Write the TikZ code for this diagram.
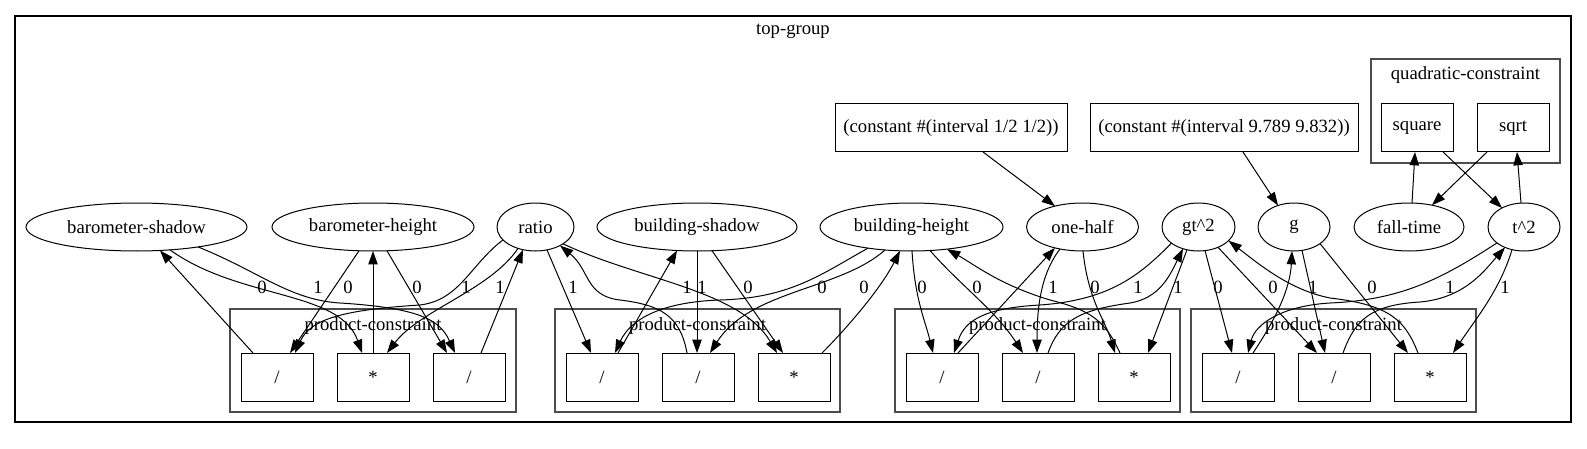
\documentclass[tikz,border=0pt]{standalone}
\usepackage{fontspec}
\setmainfont{Liberation Serif}
\usetikzlibrary{shapes.geometric,arrows.meta,calc}
\begin{document}
\begin{tikzpicture}[x=0.75pt,y=-0.75pt,
  every node/.style={font=\fontsize{14}{16}\selectfont},
  var/.style={ellipse,draw,line width=0.75pt,minimum height=36pt,inner sep=0pt},
  opbox/.style={rectangle,draw,line width=0.75pt,minimum width=54pt,minimum height=36pt,inner sep=0pt},
  cbox/.style={rectangle,draw,line width=0.75pt,minimum height=36pt,inner sep=0pt},
  grp/.style={draw=black!70,line width=1pt},
  lbl/.style={inner sep=0pt},
  edge/.style={line width=0.75pt,-{Triangle[length=10pt,width=7pt]}},
]
\useasboundingbox (0,0) rectangle (1587,449);
% outer frame
\draw[line width=0.8pt] (15,16) rectangle (1571,422);
\node[lbl] (title) at (793,31) {top-group};
% clusters
\draw[grp] (230,309) rectangle (516,412);
\draw[grp] (555,309) rectangle (840,412);
\draw[grp] (895,309) rectangle (1180,412);
\draw[grp] (1191,309) rectangle (1476,412);
\draw[grp] (1371,59) rectangle (1560,163);
\node[lbl] (pc1) at (373,326.5) {product-constraint};
\node[lbl] (pc2) at (697.5,326.5) {product-constraint};
\node[lbl] (pc3) at (1037.5,326.5) {product-constraint};
\node[lbl] (pc4) at (1333.5,326.5) {product-constraint};
\node[lbl] (qc) at (1465.5,75) {quadratic-constraint};
% variables
\node[var,minimum width=165.75pt] (bs) at (136.5,227) {barometer-shadow};
\node[var,minimum width=151.5pt] (bh) at (373,227) {barometer-height};
\node[var,minimum width=57.75pt] (ratio) at (535.5,227) {ratio};
\node[var,minimum width=150pt] (bsh) at (697,227) {building-shadow};
\node[var,minimum width=137.25pt] (bhe) at (911.5,227) {building-height};
\node[var,minimum width=84pt] (oh) at (1082.5,227) {one-half};
\node[var,minimum width=54.75pt] (gt) at (1198.5,227) {gt\textasciicircum 2};
\node[var,minimum width=54pt] (g) at (1294,227) {g};
\node[var,minimum width=82.5pt] (ft) at (1409,227) {fall-time};
\node[var,minimum width=54pt] (t2) at (1524,227) {t\textasciicircum 2};
% constants
\node[cbox,minimum width=174pt] (c1) at (951,128) {(constant \#(interval 1/2 1/2))};
\node[cbox,minimum width=201pt] (c2) at (1224,128) {(constant \#(interval 9.789 9.832))};
\node[opbox] (sq) at (1417,128) {square};
\node[opbox] (sqrt) at (1513,128) {sqrt};
% op boxes
\node[opbox] (A1) at (277,377) {/};
\node[opbox] (A2) at (373,377) {*};
\node[opbox] (A3) at (469,377) {/};
\node[opbox] (B1) at (602,377) {/};
\node[opbox] (B2) at (698,377) {/};
\node[opbox] (B3) at (794,377) {*};
\node[opbox] (C1) at (942,377) {/};
\node[opbox] (C2) at (1038,377) {/};
\node[opbox] (C3) at (1134,377) {*};
\node[opbox] (D1) at (1238,377) {/};
\node[opbox] (D2) at (1334,377) {/};
\node[opbox] (D3) at (1430,377) {*};
% edge labels
\foreach \x/\t [count=\i] in {262/0,318/1,348/0,417/0,466/1,500/1,
  573/1,687/1,702/1,748/0,822/0,864/0,
  922/0,977/0,1053/1,1095/0,1138/1,1178/1,
  1218/0,1273/0,1313/1,1372/0,1450/1,1505/1}
  \node[lbl] (el\i) at (\x,287) {\t};
% cluster 1
\draw[edge] ($(A1)+(-24,-24)$) -- ($(bs)+(23.5,23.5)$);
\draw[edge] ($(A2)+(0,-24)$) -- ($(bh)+(0,24)$);
\draw[edge] ($(A3)+(12,-24)$) -- ($(ratio)+(-12.5,22.7)$);
\draw[edge] ($(bs)+(33.5,22.9)$) .. controls (240,300) and (340,290) .. ($(A2)+(-11,-24)$);
\draw[edge] ($(bs)+(61.5,19.9)$) .. controls (260,272) and (290,300) .. (340,303) .. controls (420,308) and (440,320) .. ($(A3)+(-14,-24)$);
\draw[edge] ($(bh)+(-14,23.8)$) -- ($(A1)+(13,-24)$);
\draw[edge] ($(bh)+(14,23.8)$) -- ($(A3)+(-22,-24)$);
\draw[edge] ($(ratio)+(-32.5,12.9)$) .. controls (470,265) and (460,300) .. (420,305) .. controls (340,310) and (310,320) .. ($(A1)+(18,-24)$);
\draw[edge] ($(ratio)+(-17.5,21.4)$) .. controls (490,290) and (420,310) .. ($(A2)+(14,-24)$);
% cluster 2
\draw[edge] ($(B1)+(16,-24)$) -- ($(bsh)+(-20,23.5)$);
\draw[edge] ($(B2)+(-11,-24)$) .. controls (680,315) and (660,305) .. (620,300) .. controls (585,296) and (590,270) .. ($(ratio)+(24.5,18.5)$);
\draw[edge] ($(B3)+(28,-24)$) .. controls (845,330) and (880,290) .. ($(bhe)+(-11.5,23.8)$);
\draw[edge] ($(ratio)+(11.5,22.9)$) -- ($(B1)+(-11,-24)$);
\draw[edge] ($(ratio)+(27.5,16.8)$) .. controls (640,280) and (740,290) .. ($(B3)+(-17,-24)$);
\draw[edge] ($(bsh)+(0,24)$) -- ($(B2)+(-1,-24)$);
\draw[edge] ($(bsh)+(15,23.7)$) -- ($(B3)+(-11,-24)$);
\draw[edge] ($(bhe)+(-43.5,21.1)$) .. controls (820,275) and (790,298) .. (720,300) .. controls (660,302) and (630,320) .. ($(B1)+(13,-24)$);
\draw[edge] ($(bhe)+(-26.5,23)$) .. controls (840,290) and (750,290) .. ($(B2)+(12,-24)$);
% cluster 3
\draw[edge] ($(bhe)+(0.5,24)$) .. controls (915,300) and (925,320) .. ($(C1)+(-9,-24)$);
\draw[edge] ($(bhe)+(18.5,23.5)$) .. controls (960,285) and (995,310) .. ($(C2)+(-15,-24)$);
\draw[edge] ($(C3)+(-14,-24)$) .. controls (1105,320) and (1090,310) .. (1050,300) .. controls (1000,285) and (975,265) .. ($(bhe)+(35.5,22.1)$);
\draw[edge] ($(C1)+(16,-24)$) -- ($(oh)+(-27.5,20.9)$);
\draw[edge] ($(oh)+(-22.5,22)$) .. controls (1040,275) and (1037,310) .. ($(C2)+(-1,-24)$);
\draw[edge] ($(oh)+(0.5,24)$) .. controls (1088,300) and (1105,320) .. ($(C3)+(-19,-24)$);
\draw[edge] ($(gt)+(-27,16.1)$) .. controls (1140,275) and (1110,300) .. (1040,305) .. controls (985,308) and (965,320) .. ($(C1)+(12,-24)$);
\draw[edge] ($(C2)+(10,-24)$) .. controls (1060,320) and (1080,310) .. (1130,303) .. controls (1160,298) and (1170,275) .. ($(gt)+(-15.5,21.7)$);
\draw[edge] ($(gt)+(-11.5,22.8)$) -- ($(C3)+(14,-24)$);
% cluster 4
\draw[edge] ($(gt)+(6.5,23.6)$) -- ($(D1)+(-6,-24)$);
\draw[edge] ($(gt)+(19.5,20.3)$) -- ($(D2)+(-17,-24)$);
\draw[edge] ($(D3)+(-12,-24)$) .. controls (1405,320) and (1390,305) .. (1330,298) .. controls (1290,290) and (1260,265) .. ($(gt)+(30,13.7)$);
\draw[edge] ($(D1)+(15,-24)$) .. controls (1275,320) and (1290,290) .. ($(g)+(-2,24)$);
\draw[edge] ($(g)+(8,23.4)$) -- ($(D2)+(-9,-24)$);
\draw[edge] ($(g)+(26,16.6)$) -- ($(D3)+(-22,-24)$);
\draw[edge] ($(t2)+(-27,15.9)$) .. controls (1440,280) and (1400,300) .. (1330,303) .. controls (1280,306) and (1255,325) .. ($(D1)+(10,-24)$);
\draw[edge] ($(D2)+(9,-24)$) .. controls (1355,320) and (1370,305) .. (1420,302) .. controls (1465,298) and (1485,270) .. ($(t2)+(-19,20.4)$);
\draw[edge] ($(t2)+(-12,22.6)$) .. controls (1500,290) and (1475,320) .. ($(D3)+(23,-24)$);
% quadratic
\draw[edge] ($(ft)+(3,-24)$) -- ($(sq)+(-2,24)$);
\draw[edge] ($(sq)+(26,24)$) -- ($(t2)+(-22,-19)$);
\draw[edge] ($(sqrt)+(-26,24)$) -- ($(ft)+(23,-21.8)$);
\draw[edge] ($(t2)+(-3,-24)$) -- ($(sqrt)+(4,24)$);
% constants
\draw[edge] ($(c1)+(32,24)$) -- ($(oh)+(-27.5,-20.9)$);
\draw[edge] ($(c2)+(19,24)$) -- ($(g)+(-16,-21.5)$);
\end{tikzpicture}
\end{document}
